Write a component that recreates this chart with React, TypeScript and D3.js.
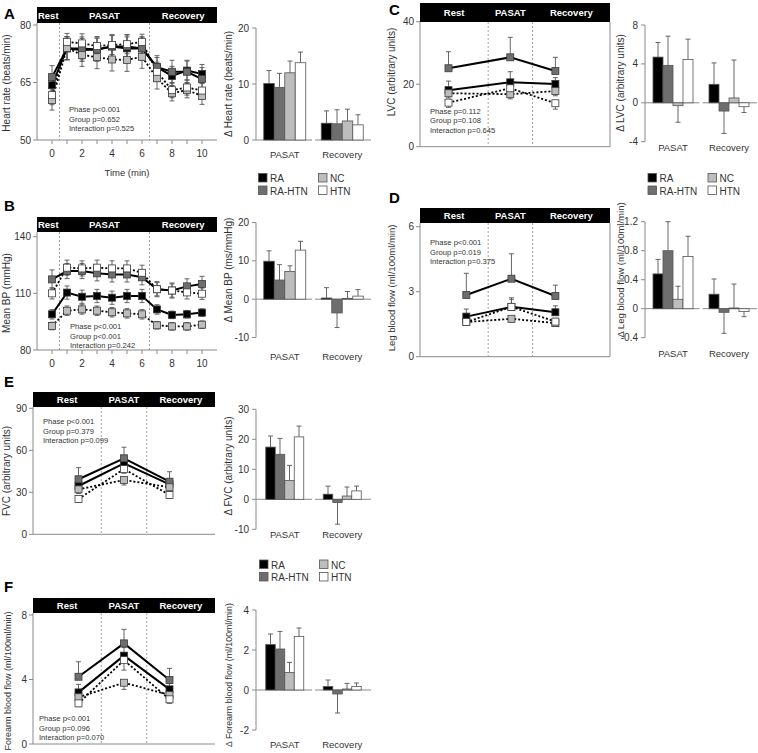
import * as d3 from "d3"

const FONT = "'Liberation Sans', Arial, Helvetica, sans-serif"

const GROUPS = ["RA", "RA-HTN", "NC", "HTN"]
const PHASES = ["Rest", "PASAT", "Recovery"]
const DELTA_PHASES = ["PASAT", "Recovery"]
const MINUTES = [0, 1, 2, 3, 4, 5, 6, 7, 8, 9, 10]
const MINUTE_LABELS = [0, 2, 4, 6, 8, 10]

// A — heart rate (beats/min)
const hrRA = [64.3, 73.9, 73.9, 73.6, 74.4, 73.9, 73.9, 69.0, 66.7, 68.1, 67.2]
const hrRAHTN = [66.4, 73.9, 73.5, 73.6, 74.4, 74.4, 73.9, 69.0, 67.8, 67.8, 65.9]
const hrNC = [60.4, 74.0, 72.2, 71.6, 71.0, 70.9, 71.7, 66.1, 62.2, 63.0, 61.5]
const hrHTN = [61.7, 75.6, 75.2, 74.5, 74.8, 75.0, 75.6, 67.8, 63.0, 63.7, 62.9]
const hrErrRA = [2.8, 3, 3, 3, 3, 3, 3, 2.5, 2.5, 2.5, 2.5]
const hrErrRAHTN = [3, 3, 3, 3, 3, 3, 3, 3, 3, 3, 3]
const hrErrNC = [2.6, 3, 3, 3, 3, 3, 3, 2.8, 2, 2, 2.2]
const hrErrHTN = [2.5, 2.2, 2.5, 2.5, 2.5, 2.5, 2, 2.5, 2, 2, 2]
const hrDeltaPasat = [10.1, 9.4, 12.0, 13.8]
const hrDeltaPasatErr = [2.3, 2.5, 2.1, 1.9]
const hrDeltaRec = [3.0, 2.9, 3.4, 2.7]
const hrDeltaRecErr = [2.2, 2.5, 2.1, 1.8]

// B — mean BP (mmHg)
const bpRA = [98.9, 110.4, 108.2, 108.6, 107.7, 108.6, 108.6, 101.5, 98.6, 98.9, 99.8]
const bpRAHTN = [117.4, 121.8, 121.8, 120.6, 120.0, 120.0, 118.5, 112.2, 111.5, 113.7, 115.0]
const bpNC = [92.7, 100.8, 101.5, 100.8, 100.0, 99.4, 98.9, 93.1, 92.5, 92.5, 93.4]
const bpHTN = [110.0, 123.6, 123.2, 123.6, 123.2, 123.2, 120.9, 112.2, 111.5, 110.5, 109.8]
const bpErrRA = [2.5, 3.5, 3.5, 3.5, 3.5, 3.5, 3.5, 2.5, 2, 2, 2]
const bpErrRAHTN = [5, 4, 4, 4, 4, 4, 4, 4, 4, 4, 4]
const bpErrNC = [2, 2.5, 2.5, 2.5, 2.5, 2.5, 2.5, 2, 2, 2, 2]
const bpErrHTN = [3, 4, 4, 4, 4, 4, 4, 3.5, 3.5, 3.5, 3]
const bpDeltaPasat = [9.9, 5.0, 7.2, 12.8]
const bpDeltaPasatErr = [2.7, 4.0, 1.5, 2.3]
const bpDeltaRec = [0.3, -3.6, 0.2, 0.8]
const bpDeltaRecErr = [2.7, 3.8, 1.8, 1.7]

// C — LVC (arbitrary units)
const lvcRA = [18.1, 20.6, 20.1]
const lvcRAHTN = [25.1, 28.6, 24.2]
const lvcNC = [17.1, 16.8, 17.8]
const lvcHTN = [14.1, 18.7, 13.9]
const lvcErrRA = [2.9, 3.4, 2.0]
const lvcErrRAHTN = [5.3, 6.4, 4.4]
const lvcErrNC = [1.5, 1.5, 1.5]
const lvcErrHTN = [1.5, 2.0, 1.9]
const lvcDeltaPasat = [4.7, 3.85, -0.3, 4.45]
const lvcDeltaPasatErr = [1.5, 3.0, 1.7, 2.1]
const lvcDeltaRec = [1.9, -0.85, 0.5, -0.4]
const lvcDeltaRecErr = [2.2, 2.3, 3.9, 0.6]

// D — leg blood flow (ml/100ml/min)
const legRA = [1.85, 2.3, 2.05]
const legRAHTN = [2.85, 3.6, 2.8]
const legNC = [1.6, 1.75, 1.55]
const legHTN = [1.6, 2.3, 1.62]
const legErrRA = [0.35, 0.35, 0.3]
const legErrRAHTN = [1.0, 1.15, 0.5]
const legErrNC = [0.15, 0.15, 0.15]
const legErrHTN = [0.15, 0.42, 0.15]
const legDeltaPasat = [0.48, 0.8, 0.13, 0.72]
const legDeltaPasatErr = [0.2, 0.4, 0.18, 0.28]
const legDeltaRec = [0.2, -0.05, 0.01, -0.04]
const legDeltaRecErr = [0.21, 0.29, 0.33, 0.07]

// E — FVC (arbitrary units)
const fvcRA = [34.5, 50.7, 35.7]
const fvcRAHTN = [39.3, 54.3, 37.6]
const fvcNC = [32.1, 38.8, 33.6]
const fvcHTN = [25.2, 46.6, 28.1]
const fvcErrRA = [3, 3, 3]
const fvcErrRAHTN = [8.3, 7.9, 7.1]
const fvcErrNC = [3, 3.6, 3]
const fvcErrHTN = [2.5, 3, 2.5]
const fvcDeltaPasat = [17.4, 15.0, 6.3, 20.8]
const fvcDeltaPasatErr = [3.7, 5.3, 5.0, 3.6]
const fvcDeltaRec = [1.7, -1.1, 1.1, 2.8]
const fvcDeltaRecErr = [2.7, 7.2, 3.0, 1.6]

// F — forearm blood flow (ml/100ml/min)
const fbfRA = [3.2, 5.48, 3.39]
const fbfRAHTN = [4.17, 6.24, 3.97]
const fbfNC = [2.9, 3.8, 3.04]
const fbfHTN = [2.52, 5.2, 2.77]
const fbfErrRA = [0.5, 0.5, 0.4]
const fbfErrRAHTN = [0.93, 0.87, 0.72]
const fbfErrNC = [0.3, 0.41, 0.3]
const fbfErrHTN = [0.2, 0.62, 0.25]
const fbfDeltaPasat = [2.27, 2.05, 0.88, 2.67]
const fbfDeltaPasatErr = [0.53, 0.88, 0.5, 0.43]
const fbfDeltaRec = [0.18, -0.2, 0.05, 0.18]
const fbfDeltaRecErr = [0.32, 0.95, 0.28, 0.17]

// x positions (in a 0..8 frame) of the three phase points and phase boundaries
const phaseXC = [1.2, 3.8, 5.7]
const phaseXD = [1.95, 3.85, 5.7]
const phaseXEF = [2, 4, 6]
const boundsCD = [2.87, 4.74]
const boundsEF = [3, 5]

const FILL = ["#000000", "#6e6e6e", "#bdbdbd", "#ffffff"]
const DASH = [undefined, undefined, "2,2", "2,2"]
const LINE_W = [2, 2, 1.8, 1.8]
const AXIS = "#8a8a8a"
const TXT = "#333333"

interface LineProps {
  letter: string
  letterX: number
  letterY: number
  x0: number
  x1: number
  hdrTop: number
  hdrBot: number
  xDomain: [number, number]
  xVals: number[]
  bounds: number[]
  yDomain: [number, number]
  yRange: [number, number]
  yTicks: number[]
  yLabel: string
  yLabelX: number
  yLabelY: number
  yLabelSize?: number
  minuteTicks?: boolean
  xLabel?: string
  boxed?: boolean
  series: number[][]
  errs: number[][]
  dirs: number[]
  stats: string[]
  statsX: number
  statsY: number
}

function LinePanel(p: LineProps) {
  const x = d3.scaleLinear().domain(p.xDomain).range([p.x0, p.x1])
  const y = d3.scaleLinear().domain(p.yDomain).range(p.yRange)
  const yBot = y(p.yDomain[0])
  const edges = [p.x0, x(p.bounds[0]), x(p.bounds[1]), p.x1]
  const line = d3.line<number>().x((_, i) => x(p.xVals[i])).y((d) => y(d))
  const sq = 7
  return (
    <g fontFamily={FONT}>
      <text x={p.letterX} y={p.letterY} fontSize={15} fontWeight="bold" fill="#000">{p.letter}</text>
      <rect x={p.x0} y={p.hdrTop} width={p.x1 - p.x0} height={p.hdrBot - p.hdrTop} fill="#000" />
      {PHASES.map((ph, i) => (
        <text key={ph} x={(edges[i] + edges[i + 1]) / 2} y={(p.hdrTop + p.hdrBot) / 2 + 3.5}
          fontSize={9.5} fontWeight="bold" fill="#fff" textAnchor="middle">{ph}</text>
      ))}
      {p.bounds.map((b) => (
        <line key={b} x1={x(b)} x2={x(b)} y1={p.hdrBot} y2={yBot} stroke="#888" strokeDasharray="2,2" strokeWidth={0.8} />
      ))}
      <line x1={p.x0} x2={p.x0} y1={p.hdrBot} y2={yBot} stroke={AXIS} />
      <line x1={p.x0} x2={p.x1} y1={yBot} y2={yBot} stroke={AXIS} />
      {p.boxed && <line x1={p.x1} x2={p.x1} y1={p.hdrBot} y2={yBot} stroke={AXIS} />}
      {p.yTicks.map((t) => (
        <g key={t}>
          <line x1={p.x0 - 4} x2={p.x0} y1={y(t)} y2={y(t)} stroke={AXIS} />
          <text x={p.x0 - 6} y={y(t) + 3.5} fontSize={10} fill={TXT} textAnchor="end">{t}</text>
        </g>
      ))}
      {p.minuteTicks && MINUTES.map((m) => (
        <line key={m} x1={x(m)} x2={x(m)} y1={yBot} y2={yBot + 4} stroke={AXIS} />
      ))}
      {p.minuteTicks && MINUTE_LABELS.map((m) => (
        <text key={m} x={x(m)} y={yBot + 17} fontSize={10} fill={TXT} textAnchor="middle">{m}</text>
      ))}
      {p.xLabel && (
        <text x={(p.x0 + p.x1) / 2} y={yBot + 36} fontSize={9.5} fill={TXT} textAnchor="middle">{p.xLabel}</text>
      )}
      <text transform={`translate(${p.yLabelX},${p.yLabelY}) rotate(-90)`} fontSize={p.yLabelSize ?? 10} fill={TXT} textAnchor="middle">{p.yLabel}</text>
      {p.stats.map((s, i) => (
        <text key={s} x={p.statsX} y={p.statsY + i * 9.5} fontSize={7.6} fill={TXT}>{s}</text>
      ))}
      {p.series.map((s, k) => (
        <path key={k} d={line(s) ?? ""} fill="none" stroke="#000" strokeWidth={LINE_W[k]} strokeDasharray={DASH[k]} />
      ))}
      {p.series.map((s, k) => (
        <g key={k}>
          {s.map((v, i) => {
            const e = p.errs[k][i]
            const yHi = p.dirs[k] >= 0 ? y(v + e) : y(v)
            const yLo = p.dirs[k] <= 0 ? y(v - e) : y(v)
            const cx = x(p.xVals[i])
            return (
              <g key={i} stroke="#555" strokeWidth={0.9}>
                <line x1={cx} x2={cx} y1={yHi} y2={yLo} />
                {p.dirs[k] >= 0 && <line x1={cx - 2.5} x2={cx + 2.5} y1={yHi} y2={yHi} />}
                {p.dirs[k] <= 0 && <line x1={cx - 2.5} x2={cx + 2.5} y1={yLo} y2={yLo} />}
              </g>
            )
          })}
        </g>
      ))}
      {p.series.map((s, k) => (
        <g key={k}>
          {s.map((v, i) => (
            <rect key={i} x={x(p.xVals[i]) - sq / 2} y={y(v) - sq / 2} width={sq} height={sq}
              fill={FILL[k]} stroke="#3a3a3a" strokeWidth={0.8} />
          ))}
        </g>
      ))}
    </g>
  )
}

interface BarProps {
  axisX: number
  xEnd: number
  yDomain: [number, number]
  yRange: [number, number]
  yTicks: number[]
  yLabel: string
  yLabelX: number
  yLabelY: number
  yLabelSize?: number
  catY: number
  barW: number
  pasat: number[]
  pasatErr: number[]
  rec: number[]
  recErr: number[]
}

function BarPanel(p: BarProps) {
  const xb = d3.scaleBand<string>().domain(DELTA_PHASES).range([p.axisX, p.xEnd]).paddingInner(0)
  const y = d3.scaleLinear().domain(p.yDomain).range(p.yRange)
  const vals = [p.pasat, p.rec]
  const errs = [p.pasatErr, p.recErr]
  const y0 = y(0)
  return (
    <g fontFamily={FONT}>
      <line x1={p.axisX} x2={p.axisX} y1={y(p.yDomain[1])} y2={y(p.yDomain[0])} stroke={AXIS} />
      {p.yTicks.map((t) => (
        <g key={t}>
          <line x1={p.axisX - 4} x2={p.axisX} y1={y(t)} y2={y(t)} stroke={AXIS} />
          <text x={p.axisX - 7} y={y(t) + 3.5} fontSize={10} fill={TXT} textAnchor="end">{t}</text>
        </g>
      ))}
      <text transform={`translate(${p.yLabelX},${p.yLabelY}) rotate(-90)`} fontSize={p.yLabelSize ?? 10} fill={TXT} textAnchor="middle">{p.yLabel}</text>
      {DELTA_PHASES.map((ph, gi) => {
        const bx = xb(ph) ?? 0
        const bw = xb.bandwidth()
        const start = bx + bw / 2 - (p.barW * 4) / 2
        return (
          <g key={ph}>
            <line x1={gi === 0 ? bx : bx + 1.5} x2={gi === 0 ? bx + bw - 1.5 : bx + bw} y1={y0} y2={y0} stroke={AXIS} />
            {vals[gi].map((v, k) => {
              const x0 = start + k * p.barW
              const e = errs[gi][k]
              const tip = y(v)
              const end = v >= 0 ? y(v + e) : y(v - e)
              const cx = x0 + p.barW / 2
              return (
                <g key={k}>
                  <line x1={cx} x2={cx} y1={tip} y2={end} stroke="#555" strokeWidth={0.9} />
                  <line x1={cx - 2.5} x2={cx + 2.5} y1={end} y2={end} stroke="#555" strokeWidth={0.9} />
                  <rect x={x0} y={Math.min(tip, y0)} width={p.barW} height={Math.abs(tip - y0)}
                    fill={FILL[k]} stroke="#555" strokeWidth={0.8} />
                </g>
              )
            })}
            <text x={bx + bw / 2} y={p.catY} fontSize={9.5} fill={TXT} textAnchor="middle">{ph}</text>
          </g>
        )
      })}
    </g>
  )
}

function Legend({ x, y }: { x: number; y: number }) {
  const s = 8.5
  return (
    <g fontFamily={FONT}>
      {GROUPS.map((g, i) => {
        const col = i < 2 ? 0 : 1
        const row = i % 2
        const lx = x + col * 60
        const ly = y + row * 12.5
        return (
          <g key={g}>
            <rect x={lx} y={ly} width={s} height={s} fill={FILL[i]} stroke="#555" strokeWidth={0.8} />
            <text x={lx + s + 3} y={ly + s} fontSize={10} fill={TXT}>{g}</text>
          </g>
        )
      })}
    </g>
  )
}

export default function App() {
  return (
    <svg width={758} height={753} style={{ position: "absolute", left: 0, top: 0, background: "#fff" }}>
      {/* A */}
      <LinePanel letter="A" letterX={4} letterY={19} x0={37} x1={217} hdrTop={7} hdrBot={23}
        xDomain={[-1, 11]} xVals={MINUTES} bounds={[0.5, 6.5]}
        yDomain={[50, 80]} yRange={[140, 25]} yTicks={[50, 65, 80]}
        yLabel="Heart rate (beats/min)" yLabelX={10} yLabelY={83}
        minuteTicks xLabel="Time (min)"
        series={[hrRA, hrRAHTN, hrNC, hrHTN]} errs={[hrErrRA, hrErrRAHTN, hrErrNC, hrErrHTN]} dirs={[0, 0, 0, 0]}
        stats={["Phase p<0.001", "Group p=0.652", "Interaction p=0.525"]} statsX={69} statsY={112} />
      <BarPanel axisX={256} xEnd={371} yDomain={[0, 20]} yRange={[140, 28]} yTicks={[0, 10, 20]}
        yLabel="Δ Heart rate (beats/min)" yLabelX={232} yLabelY={84} catY={158} barW={10.5}
        pasat={hrDeltaPasat} pasatErr={hrDeltaPasatErr} rec={hrDeltaRec} recErr={hrDeltaRecErr} />
      <Legend x={258.5} y={173.5} />

      {/* B */}
      <LinePanel letter="B" letterX={4} letterY={211} x0={37} x1={217} hdrTop={217} hdrBot={232}
        xDomain={[-1, 11]} xVals={MINUTES} bounds={[0.5, 6.5]}
        yDomain={[80, 140]} yRange={[350, 236.7]} yTicks={[80, 110, 140]}
        yLabel="Mean BP (mmHg)" yLabelX={10} yLabelY={293}
        minuteTicks
        series={[bpRA, bpRAHTN, bpNC, bpHTN]} errs={[bpErrRA, bpErrRAHTN, bpErrNC, bpErrHTN]} dirs={[0, 0, 0, 0]}
        stats={["Phase p<0.001", "Group p<0.001", "Interaction p=0.242"]} statsX={70} statsY={329} />
      <BarPanel axisX={256} xEnd={371} yDomain={[-10, 20]} yRange={[337.5, 222.5]} yTicks={[-10, 0, 10, 20]}
        yLabel="Δ Mean BP (ms/mmHg)" yLabelX={232} yLabelY={270} catY={360} barW={10.5}
        pasat={bpDeltaPasat} pasatErr={bpDeltaPasatErr} rec={bpDeltaRec} recErr={bpDeltaRecErr} />

      {/* C */}
      <LinePanel letter="C" letterX={389} letterY={15} x0={420} x1={610} hdrTop={3} hdrBot={22}
        xDomain={[0, 8]} xVals={phaseXC} bounds={boundsCD}
        yDomain={[0, 40]} yRange={[146.7, 21.7]} yTicks={[0, 20, 40]}
        yLabel="LVC (arbitrary units)" yLabelX={395} yLabelY={72} boxed
        series={[lvcRA, lvcRAHTN, lvcNC, lvcHTN]} errs={[lvcErrRA, lvcErrRAHTN, lvcErrNC, lvcErrHTN]} dirs={[1, 1, -1, -1]}
        stats={["Phase p=0.112", "Group p=0.108", "Interaction p=0.645"]} statsX={430} statsY={113.5} />
      <BarPanel axisX={645} xEnd={757} yDomain={[-4, 8]} yRange={[141.7, 25]} yTicks={[-4, 0, 4, 8]}
        yLabel="Δ LVC (arbitrary units)" yLabelX={624} yLabelY={83} catY={151} barW={10}
        pasat={lvcDeltaPasat} pasatErr={lvcDeltaPasatErr} rec={lvcDeltaRec} recErr={lvcDeltaRecErr} />
      <Legend x={648} y={173.5} />

      {/* D */}
      <LinePanel letter="D" letterX={389} letterY={203} x0={420} x1={610} hdrTop={208} hdrBot={223}
        xDomain={[0, 8]} xVals={phaseXD} bounds={boundsCD}
        yDomain={[0, 6]} yRange={[356.7, 226.7]} yTicks={[0, 3, 6]}
        yLabel="Leg blood flow (ml/100ml/min)" yLabelX={395} yLabelY={288} yLabelSize={9.5} boxed
        series={[legRA, legRAHTN, legNC, legHTN]} errs={[legErrRA, legErrRAHTN, legErrNC, legErrHTN]} dirs={[1, 1, -1, 1]}
        stats={["Phase p<0.001", "Group p=0.019", "Interaction p=0.375"]} statsX={430} statsY={245} />
      <BarPanel axisX={645} xEnd={757} yDomain={[-0.4, 1.2]} yRange={[337.7, 221.7]} yTicks={[-0.4, 0, 0.4, 0.8, 1.2]}
        yLabel="Δ Leg blood flow (ml/100ml/min)" yLabelX={624} yLabelY={270} yLabelSize={9.5} catY={357} barW={10}
        pasat={legDeltaPasat} pasatErr={legDeltaPasatErr} rec={legDeltaRec} recErr={legDeltaRecErr} />

      {/* E */}
      <LinePanel letter="E" letterX={4} letterY={387} x0={33} x1={215} hdrTop={392} hdrBot={407}
        xDomain={[0, 8]} xVals={phaseXEF} bounds={boundsEF}
        yDomain={[0, 90]} yRange={[534.3, 408.3]} yTicks={[0, 30, 60, 90]}
        yLabel="FVC (arbitrary units)" yLabelX={10} yLabelY={471}
        series={[fvcRA, fvcRAHTN, fvcNC, fvcHTN]} errs={[fvcErrRA, fvcErrRAHTN, fvcErrNC, fvcErrHTN]} dirs={[1, 1, -1, -1]}
        stats={["Phase p<0.001", "Group p=0.379", "Interaction p=0.099"]} statsX={43} statsY={424} />
      <BarPanel axisX={256} xEnd={371} yDomain={[-10, 30]} yRange={[529.3, 409.3]} yTicks={[-10, 0, 10, 20, 30]}
        yLabel="Δ FVC (arbitrary units)" yLabelX={232} yLabelY={466} catY={538} barW={9.5}
        pasat={fvcDeltaPasat} pasatErr={fvcDeltaPasatErr} rec={fvcDeltaRec} recErr={fvcDeltaRecErr} />
      <Legend x={259.5} y={560} />

      {/* F */}
      <LinePanel letter="F" letterX={4} letterY={592} x0={33} x1={215} hdrTop={598} hdrBot={613}
        xDomain={[0, 8]} xVals={phaseXEF} bounds={boundsEF}
        yDomain={[0, 8]} yRange={[744, 615]} yTicks={[0, 4, 8]}
        yLabel="Forearm blood flow (ml/100ml/min)" yLabelX={11} yLabelY={681} yLabelSize={9}
        series={[fbfRA, fbfRAHTN, fbfNC, fbfHTN]} errs={[fbfErrRA, fbfErrRAHTN, fbfErrNC, fbfErrHTN]} dirs={[1, 1, -1, -1]}
        stats={["Phase p<0.001", "Group p=0.096", "Interaction p=0.070"]} statsX={39} statsY={721} />
      <BarPanel axisX={256} xEnd={371} yDomain={[-2, 4]} yRange={[730, 610]} yTicks={[-2, 0, 2, 4]}
        yLabel="Δ Forearm blood flow (ml/100ml/min)" yLabelX={232} yLabelY={675} yLabelSize={8.8} catY={748} barW={9.5}
        pasat={fbfDeltaPasat} pasatErr={fbfDeltaPasatErr} rec={fbfDeltaRec} recErr={fbfDeltaRecErr} />
    </svg>
  )
}
